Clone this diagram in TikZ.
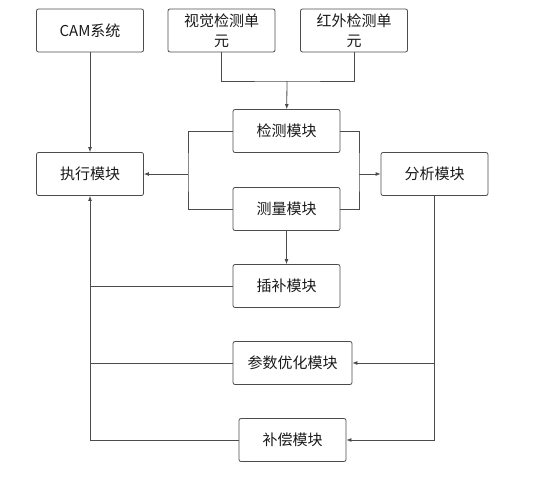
\documentclass[tikz,border=0pt]{standalone}
\usepackage{fontspec}
\newfontfamily\cjk{Noto Sans CJK SC}
\usetikzlibrary{arrows.meta}

\tikzset{
  modbox/.style={draw=black!70, rounded corners=2pt, line width=0.8pt,
    minimum width=107pt, minimum height=43pt, align=center,
    font=\cjk\fontsize{15pt}{20pt}\selectfont, text=black!90},
  conn/.style={draw=black!70, line width=0.8pt},
  arr/.style={conn, -{Latex[length=5pt,width=4pt]}}
}

\begin{document}
\begin{tikzpicture}[x=1pt, y=-1pt]
\useasboundingbox (0,0) rectangle (536,488);
% top row
\node[modbox] (cam) at (90,30.5){CAM系统};
\node[modbox] (vis) at (221.5,30.5){视觉检测单\\元};
\node[modbox] (ir) at (354,30.5){红外检测单\\元};
% middle
\node[modbox] (det) at (286.5,131){检测模块};
\node[modbox] (exe) at (90,174){执行模块};
\node[modbox] (ana) at (434.5,174){分析模块};
\node[modbox] (mea) at (286.5,209){测量模块};
% lower
\node[modbox] (itp) at (286.5,286){插补模块};
\node[modbox, minimum width=119pt] (opt) at (292.5,363){参数优化模块};
\node[modbox] (cmp) at (292.5,440){补偿模块};

\coordinate (m) at (287,81);
\coordinate (lb) at (188,174);
\coordinate (rb) at (359,174);
\coordinate (fb) at (90,440);
\coordinate (fr) at (434.5,440);

\draw[conn] (vis.south) |- (m) -| (ir.south);
\draw[arr] (m) -- (det);
\draw[arr] (cam) -- (exe);
\draw[conn] (det.west) -| (lb) |- (mea.west);
\draw[arr] (lb) -- (exe.east);
\draw[conn] (det.east) -| (rb) |- (mea.east);
\draw[arr] (rb) -- (ana.west);
\draw[arr] (mea) -- (itp);
% feedback
\draw[conn] (cmp.west) -- (fb);
\draw[arr] (fb) -- (exe.south);
\draw[conn] (itp.west) -- (itp.west -| fb);
\draw[conn] (opt.west) -- (opt.west -| fb);
\draw[conn] (ana.south) -- (fr);
\draw[arr] (fr) -- (cmp.east);
\draw[arr] (opt.east -| fr) -- (opt.east);
\end{tikzpicture}
\end{document}
